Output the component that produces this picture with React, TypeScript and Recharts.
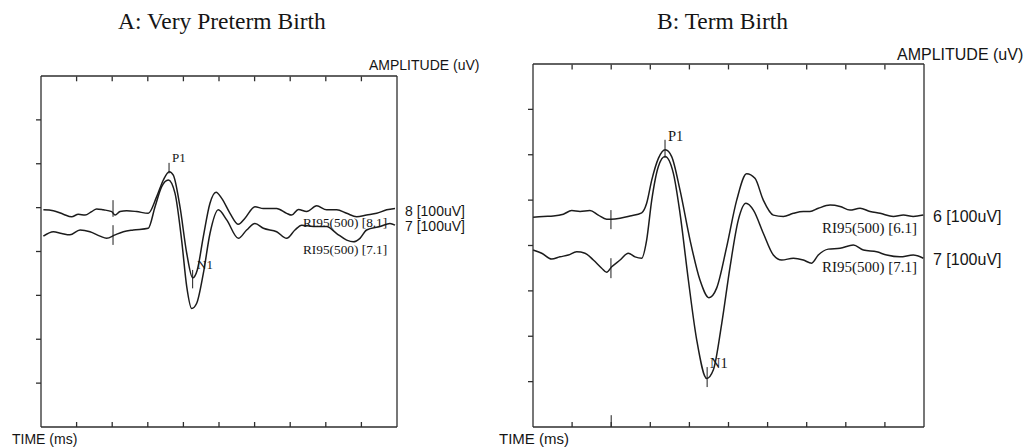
import React from "react";
import { LineChart, Line, XAxis, YAxis, ReferenceLine } from "recharts";

// time axis (ms) and amplitude axis (arbitrary trace units, 10 per division)
const xTicks = [30, 60, 90, 120, 150, 180, 210, 240, 270];
const yTicks = [10, 20, 30, 40, 50, 60, 70];

// Panel A: very preterm birth
const timesA8 = [2, 10.4, 18.8, 25.8, 31.5, 37.1, 42.7, 46.9, 52.5, 59.6, 62.4, 66.6, 72.2, 80.6, 90.4, 97.5, 103.1, 108.1, 111.5, 117.1, 122.8, 127.8, 131.7, 136.8, 142.4, 147.5, 152.3, 159.3, 166.3, 171.9, 180.3, 187.4, 198.6, 207.0, 211.2, 216.9, 223.9, 232.3, 240.7, 249.2, 257.6, 266.0, 274.4, 282.9, 291.3, 298.3];
const ampA8 = [49.5, 49.3, 48.5, 47.9, 48.5, 48.3, 49.1, 49.7, 49.5, 49.1, 48.3, 49.1, 49.3, 49.1, 48.7, 52.5, 56.3, 58.2, 57.4, 50.2, 39.6, 34.0, 35.8, 43.4, 51.0, 53.5, 52.1, 48.7, 46.2, 47.6, 50.2, 49.8, 49.8, 48.7, 48.3, 49.6, 49.1, 50.4, 49.5, 49.5, 48.7, 47.9, 48.3, 48.7, 49.5, 49.8];

const timesA7 = [2.0, 10.4, 17.4, 24.4, 32.9, 41.3, 49.7, 55.3, 62.4, 69.4, 77.8, 90.4, 96.1, 101.7, 107.3, 112.9, 118.5, 122.8, 127.0, 131.2, 136.8, 142.4, 149.4, 156.5, 166.3, 173.3, 180.3, 187.4, 198.6, 207.0, 214.0, 219.7, 229.5, 240.7, 249.2, 257.6, 263.2, 268.8, 274.4, 285.7, 294.1, 298.3];
const ampA7 = [43.5, 44.5, 44.1, 43.8, 44.9, 44.5, 43.5, 43.0, 43.8, 44.5, 44.9, 45.3, 50.2, 54.8, 56.3, 53.3, 42.6, 32.0, 27.0, 28.2, 35.0, 44.1, 49.5, 47.2, 43.0, 44.9, 46.4, 45.3, 44.5, 43.0, 44.9, 46.0, 45.7, 45.7, 44.1, 42.6, 42.2, 43.0, 44.9, 45.7, 46.4, 46.0];

// Panel B: term birth
const timesB6 = [0, 7.9, 15.6, 23.3, 29.7, 36.1, 43.7, 50.1, 56.5, 59.8, 66.8, 74.4, 83.4, 87.2, 91.1, 96.2, 101.5, 106.4, 112.8, 120.5, 128.1, 135.0, 140.9, 148.6, 156.3, 163.9, 170.3, 176.7, 184.4, 192.1, 199.8, 207.4, 212.5, 218.9, 227.9, 235.6, 243.2, 250.9, 258.6, 266.3, 276.5, 284.2, 291.8, 299.5];
const ampB6 = [46.2, 46.4, 46.5, 46.9, 47.7, 47.5, 47.7, 46.7, 45.8, 45.8, 46.0, 46.5, 47.2, 49.3, 54.4, 59.2, 61.1, 59.6, 52.2, 41.2, 32.4, 28.5, 30.6, 39.7, 50.0, 55.8, 54.8, 50.0, 46.7, 46.4, 47.1, 47.5, 47.5, 48.2, 48.9, 48.6, 47.8, 48.2, 47.5, 47.1, 46.4, 46.7, 46.4, 46.7];

const timesB7 = [0, 6.7, 14.3, 20.7, 27.1, 33.5, 39.9, 46.3, 52.7, 56.5, 60.4, 66.8, 73.1, 78.3, 83.4, 87.2, 91.1, 96.2, 101.3, 107.7, 112.8, 119.2, 125.6, 133.3, 138.4, 144.8, 151.2, 157.5, 163.4, 169.1, 176.7, 184.4, 190.8, 199.8, 207.4, 213.8, 218.9, 226.6, 235.6, 245.8, 253.5, 263.7, 271.4, 281.6, 291.8, 299.5];
const ampB7 = [39.0, 38.3, 37.0, 37.5, 37.9, 38.6, 38.3, 36.8, 35.0, 34.1, 35.3, 36.8, 38.3, 37.5, 37.2, 41.2, 50.0, 57.4, 59.6, 55.9, 47.1, 32.4, 19.2, 10.7, 12.6, 22.8, 35.3, 45.6, 49.3, 47.8, 42.7, 37.9, 36.8, 37.2, 36.8, 36.1, 37.9, 39.2, 39.4, 40.1, 39.0, 38.6, 37.9, 37.5, 37.9, 37.2];

// vertical marker segments [time, from, to]
const markersA: [number, number, number][] = [
  [60.7, 51.7, 47.9], // stimulus, trace 8
  [60.7, 46.0, 41.5], // stimulus, trace 7
  [107.9, 60.2, 57.8], // P1
  [127.8, 35.8, 31.6], // N1
];
const markersB: [number, number, number][] = [
  [59.8, 47.8, 43.6],
  [59.8, 37.2, 32.8],
  [101.3, 63.3, 59.3],
  [133.6, 13.2, 8.8],
  [60, 0, 2.6], // longer tick on time axis
];

// short inward ticks hanging from the top edge
const topTicks: [number, number, number][] = xTicks.map((t) => [t, 79.9, 78.8]);

const zip = (t: number[], v: number[]) => t.map((x, i) => ({ t: x, v: v[i] }));

const AXIS = "#2e2e2e";
const TRACE = "#1c1c1c";
const serif = '"Liberation Serif", "Times New Roman", serif';
const sans = '"Liberation Sans", Arial, sans-serif';
const noLabel = () => <g />;

type TxtProps = { x: number; y: number; size: number; font: string; children: React.ReactNode };
const Txt = ({ x, y, size, font, children }: TxtProps) => (
  <div
    style={{
      position: "absolute",
      left: x,
      top: y,
      fontSize: size,
      fontFamily: font,
      lineHeight: 1,
      whiteSpace: "nowrap",
      color: "#151515",
    }}
  >
    {children}
  </div>
);

function Panel({
  left,
  width,
  margin,
  traces,
  markers,
}: {
  left: number;
  width: number;
  margin: { top: number; left: number; right: number; bottom: number };
  traces: { t: number; v: number }[][];
  markers: [number, number, number][];
}) {
  return (
    <div style={{ position: "absolute", left, top: 0 }}>
      <LineChart width={width} height={447} margin={margin}>
        <XAxis
          dataKey="t"
          type="number"
          domain={[0, 300]}
          ticks={xTicks}
          interval={0}
          tick={noLabel}
          tickSize={5}
          mirror
          height={1}
          stroke={AXIS}
          strokeWidth={1.3}
        />
        <XAxis
          xAxisId="top"
          orientation="top"
          type="number"
          domain={[0, 300]}
          ticks={xTicks}
          tick={noLabel}
          tickLine={false}
          mirror
          height={1}
          stroke={AXIS}
          strokeWidth={1.3}
        />
        <YAxis
          type="number"
          domain={[0, 80]}
          ticks={yTicks}
          tick={noLabel}
          tickSize={5}
          width={1}
          stroke={AXIS}
          strokeWidth={1.3}
        />
        <YAxis
          yAxisId="right"
          orientation="right"
          type="number"
          domain={[0, 80]}
          ticks={yTicks}
          tick={noLabel}
          tickSize={6}
          mirror
          width={1}
          stroke={AXIS}
          strokeWidth={1.3}
        />
        {topTicks.map(([t, a, b], i) => (
          <ReferenceLine
            key={"tt" + i}
            segment={[
              { x: t, y: a },
              { x: t, y: b },
            ]}
            ifOverflow="visible"
            stroke={AXIS}
            strokeWidth={1.3}
          />
        ))}
        {markers.map(([t, a, b], i) => (
          <ReferenceLine
            key={i}
            segment={[
              { x: t, y: a },
              { x: t, y: b },
            ]}
            stroke={TRACE}
            strokeWidth={1}
          />
        ))}
        {traces.map((d, i) => (
          <Line
            key={i}
            data={d}
            dataKey="v"
            type="monotone"
            stroke={TRACE}
            strokeWidth={1.5}
            dot={false}
            isAnimationActive={false}
          />
        ))}
      </LineChart>
    </div>
  );
}

export default function App() {
  return (
    <div
      style={{
        position: "absolute",
        left: 0,
        top: 0,
        width: 1024,
        height: 447,
        overflow: "hidden",
        background: "#fff",
      }}
    >
      <Panel
        left={0}
        width={480}
        margin={{ top: 76, left: 40, right: 83, bottom: 20 }}
        traces={[zip(timesA8, ampA8), zip(timesA7, ampA7)]}
        markers={markersA}
      />
      <Panel
        left={490}
        width={534}
        margin={{ top: 64, left: 42, right: 100, bottom: 20 }}
        traces={[zip(timesB6, ampB6), zip(timesB7, ampB7)]}
        markers={markersB}
      />

      <Txt x={118} y={9.7} size={23.5} font={serif}>A: Very Preterm Birth</Txt>
      <Txt x={657} y={9.7} size={23.5} font={serif}>B: Term Birth</Txt>

      <Txt x={369} y={58} size={14} font={sans}>AMPLITUDE (uV)</Txt>
      <Txt x={897} y={46.5} size={16} font={sans}>AMPLITUDE (uV)</Txt>
      <Txt x={12} y={432} size={14} font={sans}>TIME (ms)</Txt>
      <Txt x={499} y={431} size={15} font={sans}>TIME (ms)</Txt>

      <Txt x={405} y={204} size={14} font={sans}>8 [100uV]</Txt>
      <Txt x={405} y={219} size={14} font={sans}>7 [100uV]</Txt>
      <Txt x={933} y={209} size={16} font={sans}>6 [100uV]</Txt>
      <Txt x={933} y={252} size={16} font={sans}>7 [100uV]</Txt>

      <Txt x={303} y={216.3} size={13.3} font={serif}>RI95(500) [8.1]</Txt>
      <Txt x={303} y={243.3} size={13.3} font={serif}>RI95(500) [7.1]</Txt>
      <Txt x={822} y={221.4} size={15} font={serif}>RI95(500) [6.1]</Txt>
      <Txt x={822} y={260.4} size={15} font={serif}>RI95(500) [7.1]</Txt>

      <Txt x={172} y={151.4} size={13} font={serif}>P1</Txt>
      <Txt x={197} y={258.4} size={13} font={serif}>N1</Txt>
      <Txt x={668} y={128.7} size={14.5} font={serif}>P1</Txt>
      <Txt x={710} y={355.7} size={14.5} font={serif}>N1</Txt>
    </div>
  );
}
